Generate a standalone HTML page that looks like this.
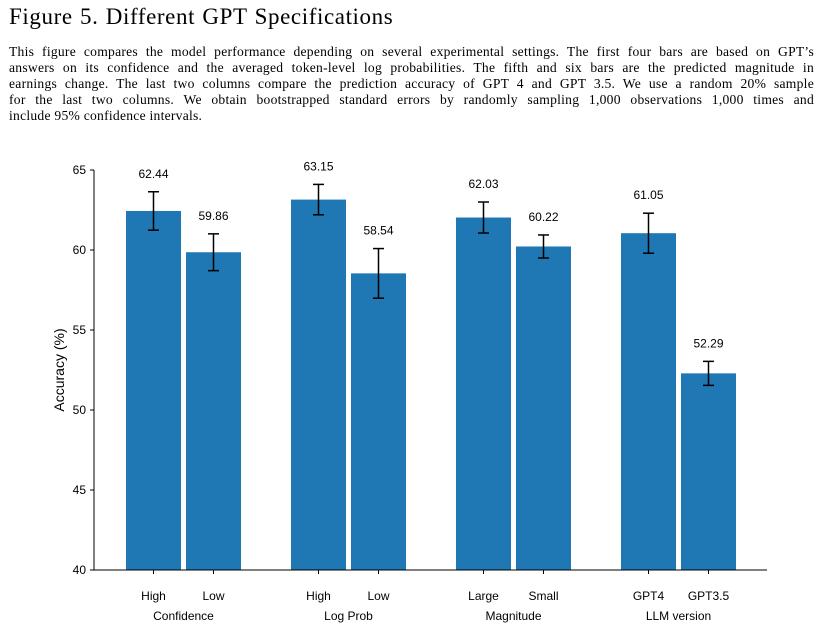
<!DOCTYPE html>
<html><head><meta charset="utf-8"><style>
body{margin:0;width:827px;height:630px;background:#fff;overflow:hidden;position:relative;font-family:"Liberation Serif",serif}
#title{position:absolute;left:9px;top:4px;font-size:23px;margin:0;font-weight:normal;letter-spacing:0.6px;word-spacing:1px}
#cap{position:absolute;left:9px;top:44px;width:805px;font-size:13.6px;line-height:16px;margin:0;letter-spacing:0.25px}
#cap div{text-align:justify;text-align-last:justify;white-space:nowrap}
#cap div.last{text-align-last:left}
svg{position:absolute;left:0;top:0}
svg text{font-family:"Liberation Sans",sans-serif;font-size:12px;fill:#000}
</style></head><body>
<h1 id="title">Figure 5. Different GPT Specifications</h1>
<div id="cap">
<div>This figure compares the model performance depending on several experimental settings. The first four bars are based on GPT’s</div>
<div>answers on its confidence and the averaged token-level log probabilities. The fifth and six bars are the predicted magnitude in</div>
<div>earnings change. The last two columns compare the prediction accuracy of GPT 4 and GPT 3.5. We use a random 20% sample</div>
<div>for the last two columns. We obtain bootstrapped standard errors by randomly sampling 1,000 observations 1,000 times and</div>
<div class="last">include 95% confidence intervals.</div>
</div>
<svg id="chart" width="827" height="630"></svg>
<script>
const barLabels=["High","Low","High","Low","Large","Small","GPT4","GPT3.5"];
const groupLabels=["Confidence","Log Prob","Magnitude","LLM version"];
const values=[62.44,59.86,63.15,58.54,62.03,60.22,61.05,52.29];
const errors=[1.2,1.15,0.95,1.55,0.97,0.72,1.25,0.75];
const yTicks=[40,45,50,55,60,65];
const NS="http://www.w3.org/2000/svg";
const svg=document.getElementById('chart');
const y0=570,yTop=170,vMin=40,vMax=65;
function ys(v){return y0-(v-vMin)/(vMax-vMin)*(y0-yTop);}
function bx(i){const g=Math.floor(i/2),k=i%2;return 126+g*165+k*60;}
const bw=55;
function mk(t,a,name){const e=document.createElementNS(NS,t);for(const k in a)e.setAttribute(k,a[k]);


svg.appendChild(e);return e;}
values.forEach((v,i)=>{
 const x=bx(i);
 mk('rect',{x:x,y:ys(v),width:bw,height:y0-ys(v),fill:'#1f77b4'},'bar-'+i);
 const cx=x+bw/2,e=errors[i];
 mk('line',{x1:cx,x2:cx,y1:ys(v+e),y2:ys(v-e),stroke:'#000','stroke-width':1.5},'error-bar-'+i);
 mk('line',{x1:cx-5.5,x2:cx+5.5,y1:ys(v+e),y2:ys(v+e),stroke:'#000','stroke-width':1.5},'error-cap-top-'+i);
 mk('line',{x1:cx-5.5,x2:cx+5.5,y1:ys(v-e),y2:ys(v-e),stroke:'#000','stroke-width':1.5},'error-cap-bottom-'+i);
 const t=mk('text',{x:cx,y:ys(v+e)-14,'text-anchor':'middle'},'value-label-'+i);t.textContent=v.toFixed(2);
 mk('line',{x1:cx,x2:cx,y1:y0,y2:y0+4,stroke:'#000'},'x-tick-'+i);
 const l=mk('text',{x:cx,y:600,'text-anchor':'middle'},'x-tick-label-'+i);l.textContent=barLabels[i];
});
groupLabels.forEach((g,j)=>{const t=mk('text',{x:(bx(2*j)+bx(2*j+1)+bw)/2,y:620,'text-anchor':'middle'},'group-label-'+j);t.textContent=g;});
yTicks.forEach(v=>{
 mk('line',{x1:90,x2:94,y1:ys(v),y2:ys(v),stroke:'#000'},'y-tick-'+v);
 const t=mk('text',{x:86,y:ys(v)+4,'text-anchor':'end'},'y-tick-label-'+v);t.textContent=v;
});
mk('line',{x1:94,x2:94,y1:yTop,y2:y0,stroke:'#000'},'y-axis');
mk('line',{x1:94,x2:767,y1:y0,y2:y0,stroke:'#000'},'x-axis');
const yt=mk('text',{x:0,y:0,'text-anchor':'middle',transform:'translate(64,370) rotate(-90)'},'y-axis-title');
yt.style.fontSize='14px';yt.textContent='Accuracy (%)';
</script>
</body></html>
